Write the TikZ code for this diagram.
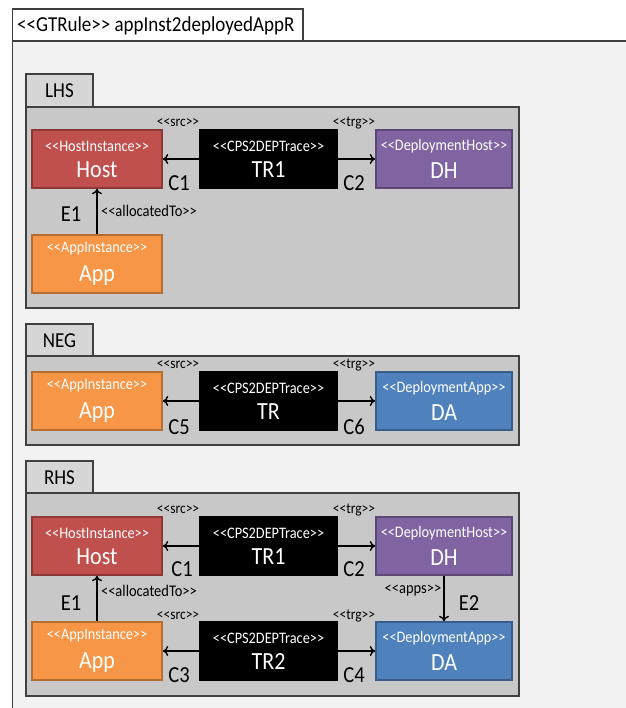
\documentclass[tikz,border=0pt]{standalone}
\usepackage{fontspec}
\setmainfont{Carlito}
\usetikzlibrary{arrows.meta}
\definecolor{hostred}{HTML}{C0504D}
\definecolor{hostredb}{HTML}{8C3836}
\definecolor{dhpurple}{HTML}{8064A2}
\definecolor{dhpurpleb}{HTML}{5C4776}
\definecolor{apporange}{HTML}{F79646}
\definecolor{apporangeb}{HTML}{B66D31}
\definecolor{dablue}{HTML}{4F81BD}
\definecolor{dablueb}{HTML}{385D8A}
\definecolor{panelgray}{HTML}{C8C8C8}
\definecolor{tabgray}{HTML}{D6D6D6}
\definecolor{outerbg}{HTML}{F2F2F2}
\definecolor{edgegray}{HTML}{404040}
\newcommand{\stt}[1]{<{}<#1>{}>}
\newcommand{\tall}[1]{\scalebox{1}[1.12]{#1}}
\newcommand{\elem}[2]{\tall{\fontsize{14.3}{14.3}\selectfont\stt{#1}}\\[9pt]\tall{\fontsize{22}{22}\selectfont #2}}
\tikzset{
  elembox/.style={minimum height=58pt, inner sep=0pt, align=center, text=white, line width=1.6pt},
  hostbox/.style={elembox, fill=hostred, draw=hostredb, minimum width=130pt},
  dhbox/.style={elembox, fill=dhpurple, draw=dhpurpleb, minimum width=136pt},
  appbox/.style={elembox, fill=apporange, draw=apporangeb, minimum width=130pt},
  dabox/.style={elembox, fill=dablue, draw=dablueb, minimum width=136pt},
  trbox/.style={elembox, fill=black, draw=black, minimum width=137pt},
  panelbox/.style={fill=panelgray, draw=edgegray, line width=1.3pt},
  tabbox/.style={fill=tabgray, draw=edgegray, line width=1.3pt},
  tabtext/.style={font=\fontsize{19}{19}\selectfont, inner sep=0pt, yscale=1.12, transform shape},
  smalllab/.style={font=\fontsize{13.5}{13.5}\selectfont, inner sep=0pt, yscale=1.12, transform shape},
  midlab/.style={font=\fontsize{14.5}{14.5}\selectfont, inner sep=0pt, yscale=1.12, transform shape},
  biglab/.style={font=\fontsize{20.5}{20.5}\selectfont, inner sep=0pt, yscale=1.12, transform shape},
  arr/.style={-{To[length=5.5pt,width=10pt,line width=1.4pt]}, line width=1.5pt}
}
\begin{document}
\begin{tikzpicture}[x=1pt,y=-1pt]
\useasboundingbox (0,0) rectangle (625,708);
% outer frame
\fill[outerbg] (12.5,41) rectangle (630,712);
\draw[edgegray, line width=1.2pt] (12.5,712) -- (12.5,41) -- (630,41);
\draw[fill=white, draw=edgegray, line width=1.2pt] (12.5,9) rectangle (303,41);
\node[anchor=west, inner sep=0pt, font=\fontsize{19}{19}\selectfont, yscale=1.12, transform shape] (title) at (17,26) {\stt{GTRule} appInst2deployedAppR};

% ===== LHS =====
\draw[tabbox] (26,74) rectangle (93,107);
\node[tabtext] (lhstab) at (59.5,91) {LHS};
\draw[panelbox] (26,107) rectangle (519,308);
\node[hostbox] (lhost) at (97,159) {\elem{HostInstance}{Host}};
\node[trbox] (ltr) at (268.5,159) {\elem{CPS2DEPTrace}{TR1}};
\node[dhbox] (ldh) at (444,159) {\elem{DeploymentHost}{DH}};
\node[appbox] (lapp) at (97,264) {\elem{AppInstance}{App}};
\draw[arr] (ltr) -- (lhost);
\draw[arr] (ltr) -- (ldh);
\draw[arr] (lapp) -- (lhost);
\node[smalllab] (lsrc) at (178,123) {\stt{src}};
\node[smalllab] (ltrg) at (354,123) {\stt{trg}};
\node[biglab] (lc1) at (179,183) {C1};
\node[biglab] (lc2) at (354,183) {C2};
\node[biglab] (le1) at (71,214) {E1};
\node[midlab] (lalloc) at (149,211) {\stt{allocatedTo}};

% ===== NEG =====
\draw[tabbox] (26,324) rectangle (93,356);
\node[tabtext] (negtab) at (59.5,341) {NEG};
\draw[panelbox] (26,356) rectangle (519,445);
\node[appbox] (napp) at (97,401) {\elem{AppInstance}{App}};
\node[trbox] (ntr) at (268.5,401) {\elem{CPS2DEPTrace}{TR}};
\node[dabox] (nda) at (444,401) {\elem{DeploymentApp}{DA}};
\draw[arr] (ntr) -- (napp);
\draw[arr] (ntr) -- (nda);
\node[smalllab] (nsrc) at (178,365) {\stt{src}};
\node[smalllab] (ntrg) at (354,365) {\stt{trg}};
\node[biglab] (nc5) at (179,427) {C5};
\node[biglab] (nc6) at (354,427) {C6};

% ===== RHS =====
\draw[tabbox] (26,461) rectangle (93,493);
\node[tabtext] (rhstab) at (59.5,478) {RHS};
\draw[panelbox] (26,493) rectangle (519,696);
\node[hostbox] (rhost) at (97,546) {\elem{HostInstance}{Host}};
\node[trbox] (rtr1) at (268.5,546) {\elem{CPS2DEPTrace}{TR1}};
\node[dhbox] (rdh) at (444,546) {\elem{DeploymentHost}{DH}};
\node[appbox] (rapp) at (97,651) {\elem{AppInstance}{App}};
\node[trbox] (rtr2) at (268.5,651) {\elem{CPS2DEPTrace}{TR2}};
\node[dabox] (rda) at (444,651) {\elem{DeploymentApp}{DA}};
\draw[arr] (rtr1) -- (rhost);
\draw[arr] (rtr1) -- (rdh);
\draw[arr] (rtr2) -- (rapp);
\draw[arr] (rtr2) -- (rda);
\draw[arr] (rapp) -- (rhost);
\draw[arr] (rdh) -- (rda);
\node[smalllab] (rsrc1) at (178,510) {\stt{src}};
\node[smalllab] (rtrg1) at (354,510) {\stt{trg}};
\node[biglab] (rc1) at (182,569) {C1};
\node[biglab] (rc2) at (354,569) {C2};
\node[midlab] (ralloc) at (149,591) {\stt{allocatedTo}};
\node[biglab] (re1) at (71,603) {E1};
\node[midlab] (rapps) at (413,591) {\stt{apps}};
\node[biglab] (re2) at (469,603) {E2};
\node[smalllab] (rsrc2) at (178,616) {\stt{src}};
\node[smalllab] (rtrg2) at (354,616) {\stt{trg}};
\node[biglab] (rc3) at (179,675) {C3};
\node[biglab] (rc4) at (354,675) {C4};
\end{tikzpicture}
\end{document}
